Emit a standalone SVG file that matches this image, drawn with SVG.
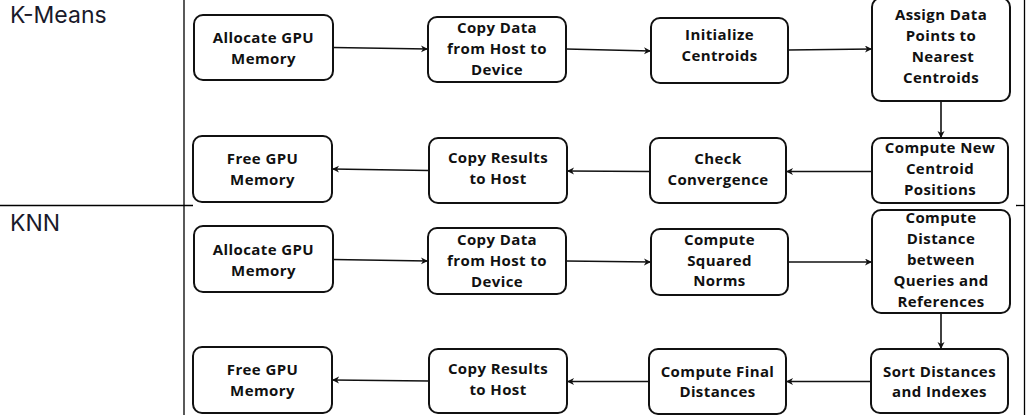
<svg xmlns="http://www.w3.org/2000/svg" width="1029" height="415" viewBox="0 0 1029 415">
<style>
.bg{fill:#fff}
.box{fill:#fff;stroke:#111;stroke-width:2}
.lbl{font-family:"Open Sans","Liberation Sans",sans-serif;font-weight:700;font-size:15px;letter-spacing:0.4px;fill:#111;text-anchor:middle}
.title{font-family:Inter,"Open Sans","Liberation Sans",sans-serif;font-size:23px;fill:#1a1a2a}
.frame{stroke:#000;stroke-width:1.3;fill:none}
.conn{stroke:#111;stroke-width:1.6;fill:none;marker-end:url(#ah)}
</style>
<defs>
<marker id="ah" markerUnits="userSpaceOnUse" markerWidth="8" markerHeight="8" refX="7" refY="3.5" orient="auto">
<path d="M0,0 L7,3.5 L0,7 L2,3.5 z" fill="#111"/>
</marker>
</defs>
<rect class="bg" x="0" y="0" width="1029" height="415"/>
<g id="frame">
<line class="frame" x1="184" y1="0" x2="184" y2="415"/>
<line class="frame" x1="1024.5" y1="0" x2="1024.5" y2="415"/>
<line class="frame" x1="0" y1="205.5" x2="193" y2="205.5"/>
<line class="frame" x1="1016" y1="205.5" x2="1024.5" y2="205.5"/>
<text class="title" x="10" y="23">K-Means</text>
<text class="title" x="10" y="231">KNN</text>
</g>
<g id="connectors">
<line class="conn" x1="333" y1="47.5" x2="428" y2="49"/>
<line class="conn" x1="566" y1="49" x2="651" y2="51"/>
<line class="conn" x1="788" y1="50" x2="872" y2="49"/>
<line class="conn" x1="941" y1="101" x2="941" y2="138"/>
<line class="conn" x1="872" y1="171.5" x2="786" y2="171.5"/>
<line class="conn" x1="650" y1="171.5" x2="567" y2="171"/>
<line class="conn" x1="429" y1="170.5" x2="332" y2="169"/>
<line class="conn" x1="333" y1="259.5" x2="428" y2="261"/>
<line class="conn" x1="566" y1="261" x2="651" y2="262"/>
<line class="conn" x1="788" y1="262" x2="872" y2="262"/>
<line class="conn" x1="941" y1="313" x2="941" y2="349"/>
<line class="conn" x1="871" y1="381.5" x2="786" y2="381.5"/>
<line class="conn" x1="649" y1="381.5" x2="567" y2="381.5"/>
<line class="conn" x1="429" y1="381" x2="332" y2="380"/>
</g>
<g id="km-alloc"><rect class="box" x="194" y="15" width="139" height="65" rx="9"/><text class="lbl"><tspan x="263.5" y="43">Allocate GPU</tspan><tspan x="263.5" y="64">Memory</tspan></text></g>
<g id="km-copy-in"><rect class="box" x="428" y="17" width="138" height="65" rx="9"/><text class="lbl"><tspan x="497" y="33">Copy Data</tspan><tspan x="497" y="54">from Host to</tspan><tspan x="497" y="75">Device</tspan></text></g>
<g id="km-init"><rect class="box" x="651" y="18" width="137" height="65" rx="9"/><text class="lbl"><tspan x="719.5" y="40">Initialize</tspan><tspan x="719.5" y="61">Centroids</tspan></text></g>
<g id="km-assign"><rect class="box" x="872" y="-2" width="138" height="103" rx="9"/><text class="lbl"><tspan x="941" y="20">Assign Data</tspan><tspan x="941" y="41">Points to</tspan><tspan x="943" y="62">Nearest</tspan><tspan x="941" y="83">Centroids</tspan></text></g>
<g id="km-compute"><rect class="box" x="872" y="138" width="136" height="65" rx="9"/><text class="lbl"><tspan x="940" y="153">Compute New</tspan><tspan x="940" y="174">Centroid</tspan><tspan x="940" y="195">Positions</tspan></text></g>
<g id="km-check"><rect class="box" x="650" y="138" width="136" height="65" rx="9"/><text class="lbl"><tspan x="718" y="164">Check</tspan><tspan x="718" y="185">Convergence</tspan></text></g>
<g id="km-copy-out"><rect class="box" x="429" y="138" width="138" height="65" rx="9"/><text class="lbl"><tspan x="498" y="163">Copy Results</tspan><tspan x="498" y="184">to Host</tspan></text></g>
<g id="km-free"><rect class="box" x="193" y="136" width="139" height="66" rx="9"/><text class="lbl"><tspan x="262.5" y="164">Free GPU</tspan><tspan x="262.5" y="185">Memory</tspan></text></g>
<g id="knn-alloc"><rect class="box" x="194" y="226" width="139" height="66" rx="9"/><text class="lbl"><tspan x="263.5" y="255">Allocate GPU</tspan><tspan x="263.5" y="276">Memory</tspan></text></g>
<g id="knn-copy-in"><rect class="box" x="428" y="228" width="138" height="66" rx="9"/><text class="lbl"><tspan x="497" y="245">Copy Data</tspan><tspan x="497" y="266">from Host to</tspan><tspan x="497" y="287">Device</tspan></text></g>
<g id="knn-norms"><rect class="box" x="651" y="229" width="137" height="66" rx="9"/><text class="lbl"><tspan x="719.5" y="245">Compute</tspan><tspan x="719.5" y="266">Squared</tspan><tspan x="719.5" y="286">Norms</tspan></text></g>
<g id="knn-dist"><rect class="box" x="872" y="210" width="138" height="103" rx="9"/><text class="lbl"><tspan x="941" y="223">Compute</tspan><tspan x="941" y="244">Distance</tspan><tspan x="941" y="265">between</tspan><tspan x="941" y="286">Queries and</tspan><tspan x="941" y="307">References</tspan></text></g>
<g id="knn-sort"><rect class="box" x="871" y="349" width="137" height="64" rx="9"/><text class="lbl"><tspan x="939.5" y="377">Sort Distances</tspan><tspan x="939.5" y="397">and Indexes</tspan></text></g>
<g id="knn-final"><rect class="box" x="649" y="349" width="137" height="65" rx="9"/><text class="lbl"><tspan x="717.5" y="377">Compute Final</tspan><tspan x="717.5" y="397">Distances</tspan></text></g>
<g id="knn-copy-out"><rect class="box" x="429" y="349" width="138" height="64" rx="9"/><text class="lbl"><tspan x="498" y="374">Copy Results</tspan><tspan x="498" y="395">to Host</tspan></text></g>
<g id="knn-free"><rect class="box" x="193" y="347" width="139" height="66" rx="9"/><text class="lbl"><tspan x="262.5" y="375">Free GPU</tspan><tspan x="262.5" y="396">Memory</tspan></text></g>
</svg>
